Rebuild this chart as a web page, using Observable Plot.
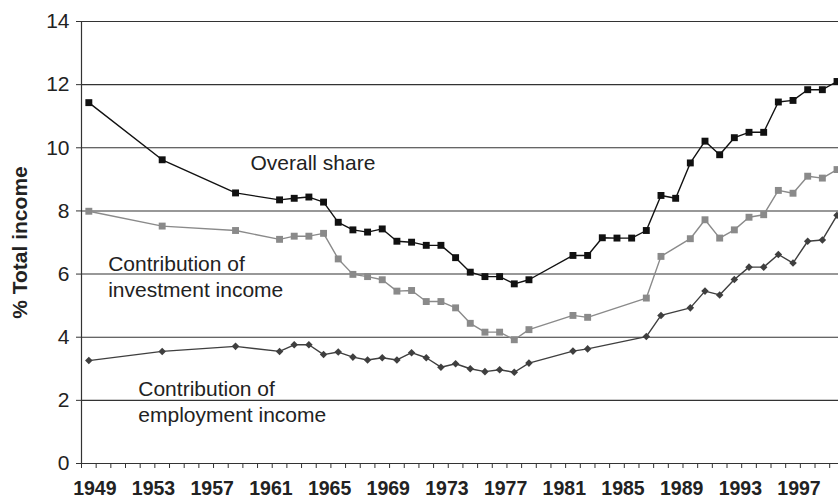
<!DOCTYPE html>
<html>
<head>
<meta charset="utf-8">
<script src="https://cdn.jsdelivr.net/npm/d3@7"></script>
<script src="https://cdn.jsdelivr.net/npm/@observablehq/plot@0.6"></script>
<style>
  html, body { margin: 0; padding: 0; background: #fff; }
  #chart { width: 838px; height: 498px; overflow: hidden; }
</style>
</head>
<body>
<div id="chart"></div>
<script>
// Overall share of top income group (% total income)
const overallYears = [1949, 1954, 1959, 1962, 1963, 1964, 1965, 1966, 1967, 1968, 1969, 1970, 1971, 1972, 1973, 1974, 1975, 1976, 1977, 1978, 1979,
  1982, 1983, 1984, 1985, 1986, 1987, 1988, 1989, 1990, 1991, 1992, 1993, 1994, 1995, 1996, 1997, 1998, 1999, 2000];
const overallValues = [11.43, 9.62, 8.57, 8.35, 8.40, 8.44, 8.28, 7.64, 7.40, 7.33, 7.43, 7.04, 7.01, 6.91, 6.91, 6.52, 6.06, 5.92, 5.92, 5.69, 5.82,
  6.59, 6.59, 7.15, 7.14, 7.14, 7.38, 8.49, 8.40, 9.52, 10.21, 9.78, 10.32, 10.49, 10.49, 11.45, 11.50, 11.84, 11.84, 12.10];

// Contributions (decomposition years)
const contribYears = [1949, 1954, 1959, 1962, 1963, 1964, 1965, 1966, 1967, 1968, 1969, 1970, 1971, 1972, 1973, 1974, 1975, 1976, 1977, 1978, 1979,
  1982, 1983, 1987, 1988, 1990, 1991, 1992, 1993, 1994, 1995, 1996, 1997, 1998, 1999, 2000];
const investmentValues = [7.99, 7.52, 7.38, 7.10, 7.20, 7.20, 7.29, 6.48, 5.99, 5.92, 5.82, 5.46, 5.48, 5.13, 5.13, 4.93, 4.44, 4.16, 4.16, 3.92, 4.24,
  4.69, 4.63, 5.24, 6.56, 7.12, 7.72, 7.14, 7.40, 7.80, 7.88, 8.65, 8.56, 9.10, 9.04, 9.31];
const employmentValues = [3.26, 3.55, 3.71, 3.55, 3.76, 3.76, 3.45, 3.53, 3.37, 3.28, 3.35, 3.28, 3.51, 3.35, 3.05, 3.16, 3.00, 2.91, 2.97, 2.89, 3.18,
  3.56, 3.63, 4.02, 4.69, 4.93, 5.46, 5.34, 5.83, 6.22, 6.22, 6.62, 6.35, 7.04, 7.08, 7.86];

// Axis ticks
const yTicks = [0, 2, 4, 6, 8, 10, 12, 14];
const xLabelYears = [1949, 1953, 1957, 1961, 1965, 1969, 1973, 1977, 1981, 1985, 1989, 1993, 1997];
const xTickMarks = d3.range(1948.5, 2001, 1);

const overall = overallYears.map((year, i) => ({year, value: overallValues[i]}));
const investment = contribYears.map((year, i) => ({year, value: investmentValues[i]}));
const employment = contribYears.map((year, i) => ({year, value: employmentValues[i]}));

const FONT = "'Liberation Sans', Arial, Helvetica, sans-serif";

const chart = Plot.plot({
  width: 838,
  height: 498,
  marginTop: 21,
  marginBottom: 35,
  marginLeft: 81,
  marginRight: 0,
  style: {fontFamily: FONT, background: "#fff", color: "#222"},
  x: {type: "linear", domain: [1948.5, 2000.1]},
  y: {domain: [0, 14]},
  marks: [
    Plot.gridY(yTicks, {stroke: "#333", strokeOpacity: 1, strokeWidth: 1.1}),
    Plot.axisY({ticks: yTicks, tickSize: 5, tickPadding: 7, fontSize: 21, label: null, stroke: "#333", fill: "#222"}),
    Plot.axisX({ticks: xTickMarks, tickSize: 5, tickFormat: () => "", label: null, stroke: "#333"}),
    Plot.axisX({ticks: xLabelYears, tickSize: 0, tickPadding: 18, tickFormat: d => String(d), fontSize: 19.5, fontWeight: "bold", dx: 6, label: null, fill: "#222"}),
    Plot.ruleY([0], {stroke: "#333", strokeWidth: 1.2}),
    Plot.frame({anchor: "left", stroke: "#333", strokeWidth: 1.2}),
    Plot.text(["% Total income"], {frameAnchor: "left", textAnchor: "middle", dx: -61, rotate: -90, fontSize: 21, fontWeight: "bold", fill: "#222"}),
    // series
    Plot.line(investment, {x: "year", y: "value", stroke: "#8a8a8a", strokeWidth: 1.4}),
    Plot.dot(investment, {x: "year", y: "value", symbol: "square", r: 3.9, fill: "#8a8a8a", stroke: "none"}),
    Plot.line(employment, {x: "year", y: "value", stroke: "#3f3f3f", strokeWidth: 1.4}),
    Plot.dot(employment, {x: "year", y: "value", symbol: "diamond2", r: 3.4, fill: "#3f3f3f", stroke: "none"}),
    Plot.line(overall, {x: "year", y: "value", stroke: "#111", strokeWidth: 1.4}),
    Plot.dot(overall, {x: "year", y: "value", symbol: "square", r: 3.9, fill: "#111", stroke: "none"}),
    // annotations
    Plot.text(["Overall share"], {x: 1960.02, y: 9.5, textAnchor: "start", fontSize: 21, fill: "#222"}),
    Plot.text(["Contribution of\ninvestment income"], {x: 1950.32, y: 5.94, textAnchor: "start", fontSize: 21, lineHeight: 1.22, fill: "#222"}),
    Plot.text(["Contribution of\nemployment income"], {x: 1952.37, y: 1.98, textAnchor: "start", fontSize: 21, lineHeight: 1.22, fill: "#222"})
  ]
});
document.getElementById("chart").appendChild(chart);
</script>
</body>
</html>
